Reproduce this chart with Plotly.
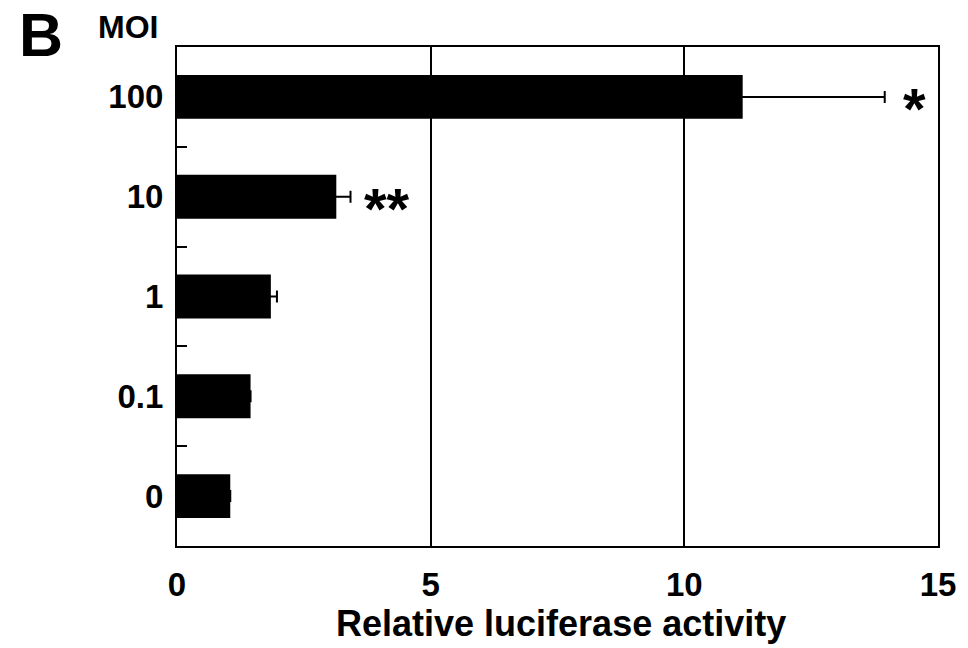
import plotly.graph_objects as go

categories = ["0", "0.1", "1", "10", "100"]
values = [1.05, 1.45, 1.85, 3.14, 11.15]
errors = [0.0, 0.0, 0.12, 0.28, 2.8]
significance = ["", "", "", "**", "*"]
x_ticks = [0, 5, 10, 15]

FONT = "Arial, 'Liberation Sans', sans-serif"
W, H = 968, 648
L, R, T, B = 177, 27, 47, 102
pw, ph = W - L - R, H - T - B


def px(x):
    return (x - L) / pw


def py(y):
    return (H - B - y) / ph


fig = go.Figure()
fig.add_trace(go.Bar(
    y=categories, x=values, orientation="h",
    marker=dict(color="black", line=dict(width=0)),
    width=0.44,
    error_x=dict(type="data", array=errors, visible=True, color="black",
                 thickness=2, width=6),
))

for i, (v, e, s) in enumerate(zip(values, errors, significance)):
    if s:
        fig.add_annotation(x=v + e, y=i, xref="x", yref="y", text=s, showarrow=False,
                           xanchor="left", yanchor="middle",
                           xshift=16 if s == "*" else 11,
                           yshift=-12,
                           font=dict(family=FONT, size=58, color="black", weight="bold"))

fig.update_layout(
    width=W, height=H,
    margin=dict(l=L, r=R, t=T, b=B),
    paper_bgcolor="white", plot_bgcolor="white",
    showlegend=False,
    font=dict(family=FONT, color="black"),
    xaxis=dict(range=[0, 15], tickvals=x_ticks, ticks="", showgrid=True,
               gridcolor="black", gridwidth=2, zeroline=False,
               showline=True, linecolor="black", linewidth=2, mirror=True,
               tickfont=dict(family=FONT, size=33, color="black", weight="bold"),
               ticklabelstandoff=8),
    yaxis=dict(type="category", categoryorder="array", categoryarray=categories,
               range=[-0.5, 4.5],
               ticks="inside", tickson="boundaries", ticklen=10, tickwidth=2,
               tickcolor="black", showgrid=False, zeroline=False,
               showline=True, linecolor="black", linewidth=2, mirror=True,
               tickfont=dict(family=FONT, size=33, color="black", weight="bold"),
               ticklabelstandoff=5),
)

fig.add_annotation(x=px(563), y=py(623), xref="paper", yref="paper",
                   xanchor="center", yanchor="middle",
                   text="Relative luciferase activity", showarrow=False,
                   font=dict(family=FONT, size=36, color="black", weight="bold"))
fig.add_annotation(x=px(40), y=py(35), xref="paper", yref="paper",
                   xanchor="center", yanchor="middle",
                   text="B", showarrow=False,
                   font=dict(family=FONT, size=61, color="black", weight="bold"))
fig.add_annotation(x=px(128), y=py(27), xref="paper", yref="paper",
                   xanchor="center", yanchor="middle",
                   text="MOI", showarrow=False,
                   font=dict(family=FONT, size=32, color="black", weight="bold"))

fig.write_html("out.html", config={"displayModeBar": False},
               post_script="document.body.style.margin='0px';")
